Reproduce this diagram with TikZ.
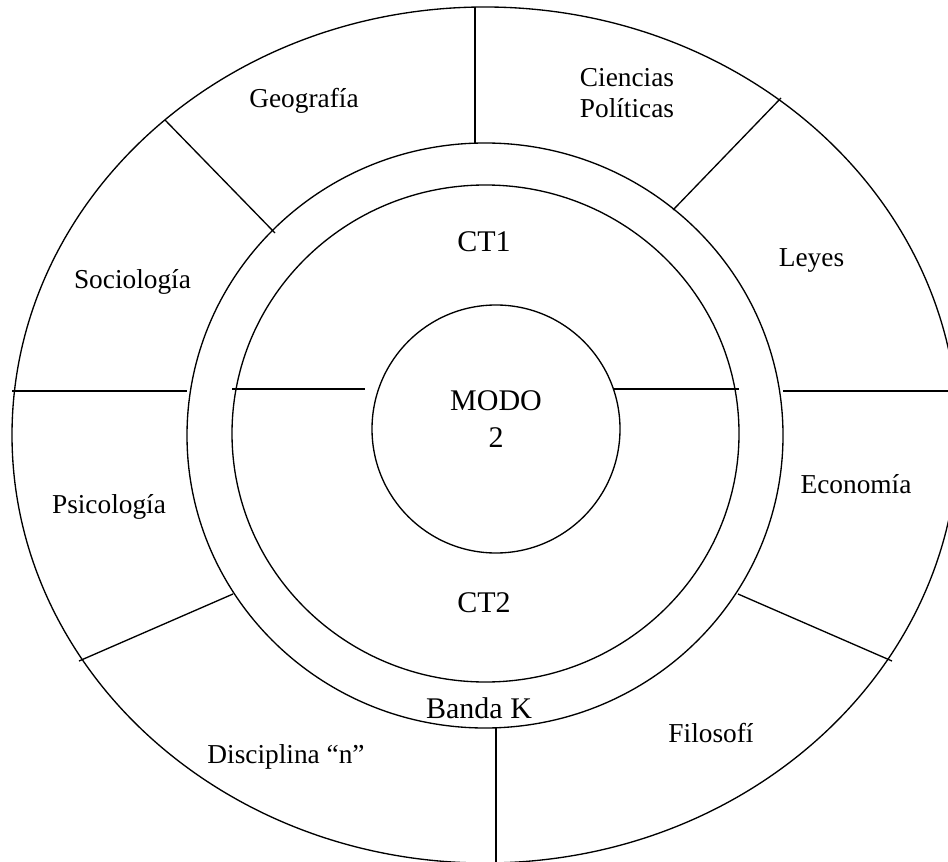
\documentclass[tikz,border=0pt]{standalone}
\usepackage{fontspec}
\setmainfont{Liberation Serif}
\usepackage{tikz}

\tikzset{
  lbl/.style={font=\fontsize{20.5}{23.25}\selectfont, inner sep=0pt, anchor=base, align=center},
  lblbig/.style={font=\fontsize{22.5}{27.5}\selectfont, inner sep=0pt, anchor=base, align=center},
  ring/.style={line width=1pt},
}

\begin{document}
\begin{tikzpicture}[x=0.75pt, y=-0.75pt]
\useasboundingbox (0,0) rectangle (948,862);
\clip (0,0) rectangle (948,862);

% rings
\draw[ring] (485,435) ellipse [x radius=473, y radius=428];
\draw[ring] (485,435.5) ellipse [x radius=298, y radius=292.5];
\draw[ring] (485.5,433.5) ellipse [x radius=253.5, y radius=248.5];
\draw[ring] (496,429) circle [radius=124];

% sector borders, outer band
\draw[ring] (475,7) to (475,143);
\draw[ring] (165,120) to (275,233);
\draw[ring] (781,98) to (673,210);
\draw[ring] (12,391) to (187,391);
\draw[ring] (783,391) to (948,391);
\draw[ring] (79,661) to (233,594);
\draw[ring] (738,594) to (892,661);
\draw[ring] (496,728) to (496,862);

% CT1 / CT2 split
\draw[ring] (232,389) to (365,389);
\draw[ring] (614,389) to (739,389);
%\draw[ring, dotted] (365,389) to (614,389);

% disciplines
\node[lbl] (geo) at (304,108) {Geografía};
\node[lbl] (cpol) at (627,118) {Ciencias\\Políticas};
\node[lbl] (leyes) at (811.5,267) {Leyes};
\node[lbl] (socio) at (132.5,289) {Sociología};
\node[lbl] (eco) at (856,493) {Economía};
\node[lbl] (psico) at (109,513) {Psicología};
\node[lbl] (filo) at (711,742) {Filosofí};
\node[lbl] (disc) at (286,763) {Disciplina “n”};

% inner labels
\node[lblbig] (ct1) at (484,252) {CT1};
\node[lblbig] (modo) at (496,447) {MODO\\2};
\node[lblbig] (ct2) at (484,612) {CT2};
\node[lblbig] (banda) at (479,718) {Banda K};
\end{tikzpicture}
\end{document}
